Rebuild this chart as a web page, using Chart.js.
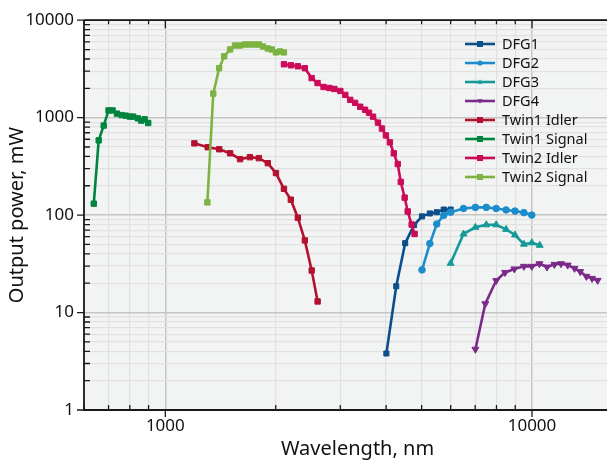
<!DOCTYPE html>
<html>
<head>
<meta charset="utf-8">
<script src="https://cdn.jsdelivr.net/npm/chart.js@4/dist/chart.umd.min.js"></script>
<style>
  html, body { margin: 0; padding: 0; background: #fff; overflow: hidden; }
  #wrap { width: 636px; height: 462px; }
</style>
</head>
<body>
<div id="wrap"><canvas id="chart" width="636" height="462"></canvas></div>
<script>
// wavelength (nm) / output power (mW)
const twin1SigWl = [638, 658, 679, 700, 718, 738, 760, 780, 800, 817, 841, 860, 878, 898]
const twin1SigPw = [131, 585, 829, 1186, 1186, 1099, 1062, 1048, 1025, 1025, 984, 933, 962, 881]

const twin1IdlWl = [1200, 1305, 1403, 1502, 1599, 1701, 1799, 1903, 2003, 2106, 2199, 2298, 2401, 2507, 2602]
const twin1IdlPw = [545, 497, 474, 431, 375, 393, 384, 341, 270, 186, 144, 94, 55, 27, 13]

const twin2SigWl = [1302, 1351, 1402, 1447, 1502, 1549, 1599, 1649, 1701, 1755, 1799, 1845, 1903, 1951, 2003, 2054, 2106]
const twin2SigPw = [135, 1765, 3215, 4256, 5010, 5500, 5500, 5630, 5630, 5630, 5630, 5370, 5128, 5010, 4670, 4780, 4670]

const twin2IdlWl = [2106, 2199, 2298, 2401, 2506, 2601, 2701, 2802, 2891, 3001, 3096, 3194, 3293, 3399, 3505, 3593, 3685, 3801, 3897, 3995, 4096, 4198, 4304, 4386, 4495, 4581, 4696, 4784]
const twin2IdlPw = [3530, 3446, 3367, 3215, 2547, 2265, 2064, 2015, 1970, 1879, 1713, 1523, 1419, 1294, 1206, 1124, 1023, 889, 773, 657, 558, 431, 334, 219, 151, 109, 80, 64]

const dfg1Wl = [4007, 4263, 4509, 4768, 5012, 5265, 5499, 5744, 5998]
const dfg1Pw = [3.8, 18.6, 51.5, 79, 97, 104, 107, 114, 114]

const dfg2Wl = [5012, 5265, 5499, 5744, 5998, 6504, 7009, 7504, 7986, 8498, 8988, 9503, 9987]
const dfg2Pw = [27.4, 51, 81, 99.5, 107, 117, 120, 120, 117, 113, 110, 106, 100]

const dfg3Wl = [5998, 6504, 7009, 7504, 7986, 8498, 8988, 9503, 9987, 10496]
const dfg3Pw = [32, 64, 75, 79.5, 79.5, 71.4, 62.5, 50.3, 52, 49]

const dfg4Wl = [7009, 7458, 7986, 8443, 8950, 9503, 9987, 10475, 10990, 11510, 11995, 12510, 13060, 13535, 14070, 14580, 15100]
const dfg4Pw = [4.2, 12.3, 21.3, 25.8, 28, 29.8, 29.8, 31.7, 29.3, 31.2, 31.7, 30.7, 28.4, 26.3, 23.5, 22.4, 21.4]

const xTickLabels = [1000, 10000]
const yTickLabels = [1, 10, 100, 1000, 10000]

const FONT = "'Noto Sans', sans-serif"

function pts(wl, pw){
	return wl.map((x, i) => ({x: x, y: pw[i]}))
}

function isMajor(v){
	let l = Math.log10(v)
	return Math.abs(l - Math.round(l)) < 1e-6
}

// 1..9 x 10^n gridlines between min and max
function logGrid(min, max){
	let out = []
	for(let d = Math.pow(10, Math.floor(Math.log10(min))); d <= max; d *= 10){
		for(let m = 1; m <= 9; m++){
			let v = Math.round(m * d * 1000) / 1000
			if(v >= min - 1e-9 && v <= max + 1e-9) out.push(v)
		}
	}
	return out
}

const series = [
	{label: "DFG1", wl: dfg1Wl, pw: dfg1Pw, color: "#0b4f8a", style: "rect", r: 3.6, rot: 0},
	{label: "DFG2", wl: dfg2Wl, pw: dfg2Pw, color: "#1b8ccc", style: "circle", r: 3.3, rot: 0},
	{label: "DFG3", wl: dfg3Wl, pw: dfg3Pw, color: "#149a98", style: "triangle", r: 4, rot: 0},
	{label: "DFG4", wl: dfg4Wl, pw: dfg4Pw, color: "#7b2a8a", style: "triangle", r: 4, rot: 180},
	{label: "Twin1 Idler", wl: twin1IdlWl, pw: twin1IdlPw, color: "#b3112d", style: "rect", r: 3.8, rot: 0},
	{label: "Twin1 Signal", wl: twin1SigWl, pw: twin1SigPw, color: "#00843e", style: "rect", r: 3.8, rot: 0},
	{label: "Twin2 Idler", wl: twin2IdlWl, pw: twin2IdlPw, color: "#cc0a5a", style: "rect", r: 3.8, rot: 0},
	{label: "Twin2 Signal", wl: twin2SigWl, pw: twin2SigPw, color: "#7cb342", style: "rect", r: 3.8, rot: 0}
]

const datasets = series.map((s, i) => ({
	label: s.label,
	data: pts(s.wl, s.pw),
	borderColor: s.color,
	backgroundColor: s.color,
	borderWidth: 2.6,
	pointStyle: s.style,
	pointRadius: s.r,
	pointRotation: s.rot,
	pointBorderWidth: 1,
	pointHoverRadius: s.r,
	tension: 0,
	order: series.length - i
}))

const X_MIN = 600, X_MAX = 18620
const Y_MIN = 1, Y_MAX = 10000

const plotBg = {
	id: "plotBg",
	beforeDraw(chart){
		const {ctx, chartArea: a} = chart
		ctx.save()
		ctx.fillStyle = "#f2f4f3"
		ctx.fillRect(a.left, a.top, a.right - a.left, a.bottom - a.top)
		ctx.restore()
	}
}

const frame = {
	id: "frame",
	afterDraw(chart){
		const {ctx, chartArea: a} = chart
		const xs = chart.scales.x, ys = chart.scales.y
		ctx.save()
		ctx.strokeStyle = "#1a1a1a"
		ctx.lineWidth = 1.3
		ctx.beginPath()
		xs.ticks.forEach(t => {
			let px = xs.getPixelForValue(t.value)
			if(isMajor(t.value)){
				ctx.moveTo(px, a.bottom); ctx.lineTo(px, a.bottom + 7)
				ctx.moveTo(px, a.top); ctx.lineTo(px, a.top + 8)
			}else{
				ctx.moveTo(px, a.bottom); ctx.lineTo(px, a.bottom - 5)
				ctx.moveTo(px, a.top); ctx.lineTo(px, a.top + 4)
			}
		})
		ys.ticks.forEach(t => {
			let py = ys.getPixelForValue(t.value)
			if(isMajor(t.value)){
				ctx.moveTo(a.left - 7, py); ctx.lineTo(a.left, py)
			}else{
				ctx.moveTo(a.left, py); ctx.lineTo(a.left + 6, py)
			}
		})
		ctx.stroke()
		ctx.lineWidth = 1.8
		ctx.beginPath()
		ctx.moveTo(a.left, a.top); ctx.lineTo(a.right, a.top)
		ctx.moveTo(a.left, a.top); ctx.lineTo(a.left, a.bottom)
		ctx.lineTo(a.right, a.bottom)
		ctx.stroke()
		ctx.restore()
	}
}

function marker(ctx, style, rot, x, y, r){
	ctx.beginPath()
	if(style == "rect"){
		ctx.rect(x - r, y - r, 2 * r, 2 * r)
	}else if(style == "circle"){
		ctx.arc(x, y, r, 0, Math.PI * 2)
	}else{
		let s = rot ? -1 : 1
		ctx.moveTo(x, y - s * r * 1.1)
		ctx.lineTo(x - r, y + s * r * 0.7)
		ctx.lineTo(x + r, y + s * r * 0.7)
		ctx.closePath()
	}
	ctx.fill()
}

const legendBox = {
	id: "legendBox",
	afterDraw(chart){
		const ctx = chart.ctx
		ctx.save()
		series.forEach((s, i) => {
			let y = 44 + i * 19
			ctx.strokeStyle = s.color
			ctx.lineWidth = 2.6
			ctx.beginPath()
			ctx.moveTo(465, y); ctx.lineTo(495, y)
			ctx.stroke()
			ctx.fillStyle = s.color
			marker(ctx, s.style, s.rot, 480, y, s.style == "rect" ? 3 : 2.6)
			ctx.fillStyle = "#111"
			ctx.font = "14.5px " + FONT
			ctx.textBaseline = "middle"
			ctx.textAlign = "left"
			ctx.fillText(s.label, 502, y + 1)
		})
		ctx.restore()
	}
}

new Chart(document.querySelector("#chart").getContext("2d"), {
	type: "line",
	data: {datasets: datasets},
	options: {
		responsive: false,
		animation: false,
		events: [],
		layout: {padding: {left: 0, top: 17, right: 1, bottom: 0}},
		plugins: {legend: {display: false}, tooltip: {enabled: false}},
		scales: {
			x: {
				type: "logarithmic",
				min: X_MIN,
				max: X_MAX,
				afterBuildTicks: sc => { sc.ticks = logGrid(X_MIN, X_MAX).map(v => ({value: v})) },
				afterFit: sc => { sc.height = 52 },
				border: {display: false},
				grid: {
					drawTicks: false,
					color: c => isMajor(c.tick.value) ? "#c4c5c4" : "#e0e1e0",
					lineWidth: c => isMajor(c.tick.value) ? 1.5 : 1.2
				},
				ticks: {
					autoSkip: false,
					maxRotation: 0,
					padding: 6,
					color: "#111",
					font: {family: FONT, size: 17},
					callback: v => xTickLabels.includes(v) ? String(v) : ""
				},
				title: {display: true, text: "Wavelength, nm", color: "#111", font: {family: FONT, size: 20}, padding: {top: 0, bottom: 1}}
			},
			y: {
				type: "logarithmic",
				min: Y_MIN,
				max: Y_MAX,
				afterBuildTicks: sc => { sc.ticks = logGrid(Y_MIN, Y_MAX).map(v => ({value: v})) },
				afterFit: sc => { sc.width = 84 },
				border: {display: false},
				grid: {
					drawTicks: false,
					color: c => isMajor(c.tick.value) ? "#c4c5c4" : "#e0e1e0",
					lineWidth: c => isMajor(c.tick.value) ? 1.5 : 1.2
				},
				ticks: {
					autoSkip: false,
					padding: 10,
					color: "#111",
					font: {family: FONT, size: 17},
					callback: v => yTickLabels.includes(v) ? String(v) : ""
				},
				title: {display: true, text: "Output power, mW", color: "#111", font: {family: FONT, size: 20}, padding: {top: 5, bottom: 0}}
			}
		}
	},
	plugins: [plotBg, frame, legendBox]
})
</script>
</body>
</html>
